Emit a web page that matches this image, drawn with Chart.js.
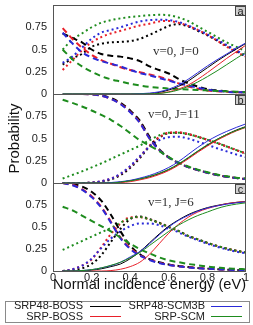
<!DOCTYPE html>
<html><head><meta charset="utf-8">
<script src="https://cdn.jsdelivr.net/npm/chart.js@4/dist/chart.umd.min.js"></script>
<style>
html,body{margin:0;padding:0;background:#fff;}
#wrap{position:relative;width:253px;height:325px;overflow:hidden;font-family:"Liberation Sans",Arial,sans-serif;}
canvas{position:absolute;left:0;top:0;}
#legend{position:absolute;left:5px;top:301px;width:243px;height:20px;border:1px solid #8a8a8a;}
.lt{position:absolute;font-size:11px;line-height:11px;color:#222;white-space:nowrap;text-align:right;}
.ll{position:absolute;height:0;border-top:1px solid;}
</style></head>
<body><div id="wrap">
<canvas id="ca" width="253" height="325"></canvas>
<canvas id="cb" width="253" height="325"></canvas>
<canvas id="cc" width="253" height="325"></canvas>
<div id="legend"></div>
</div>
<script>
// ---- data ----
const E = [0.05,0.10,0.15,0.20,0.25,0.30,0.35,0.40,0.45,0.50,0.55,0.60,0.65,0.70,0.75,0.80,0.85,0.90,0.95,1.00];
const models = ['SRP48-BOSS','SRP-BOSS','SRP48-SCM3B','SRP-SCM'];
const colors = ['#000000','#e8202a','#2a2ad8','#1e8c1e'];
const yTickLabels = ['0','0.25','0.5','0.75'];
const yTickValues = [0,0.25,0.5,0.75];
const xTickLabels = ['0','0.2','0.4','0.6','0.8','1'];
const xTickValues = [0,0.2,0.4,0.6,0.8,1];

// panel a: v=0, J=0
const aDissBOSS48 = [0,0,0,0,0,0,0,0,0.001,0.005,0.018,0.045,0.085,0.145,0.22,0.295,0.37,0.44,0.505,0.57];
const aDissBOSS   = [0,0,0,0,0,0,0,0,0,0.002,0.008,0.025,0.055,0.10,0.165,0.24,0.32,0.40,0.475,0.55];
const aDissSCM3B  = [0,0,0,0,0,0,0,0,0.003,0.01,0.025,0.055,0.10,0.165,0.24,0.315,0.385,0.45,0.515,0.575];
const aDissSCM    = [0,0,0,0,0,0,0,0,0,0.002,0.006,0.02,0.045,0.085,0.135,0.195,0.26,0.33,0.40,0.47];
const aElasBOSS48 = [0.68,0.63,0.58,0.50,0.45,0.43,0.42,0.40,0.37,0.31,0.27,0.23,0.17,0.12,0.085,0.055,0.04,0.03,0.02,0.02];
const aElasBOSS   = [0.74,0.62,0.52,0.44,0.38,0.34,0.30,0.27,0.245,0.22,0.195,0.16,0.12,0.085,0.06,0.04,0.03,0.025,0.02,0.02];
const aElasSCM3B  = [0.69,0.57,0.47,0.41,0.37,0.34,0.31,0.27,0.235,0.21,0.18,0.15,0.12,0.095,0.07,0.05,0.035,0.025,0.02,0.02];
const aElasSCM    = [0.50,0.39,0.31,0.25,0.20,0.165,0.14,0.115,0.095,0.08,0.07,0.06,0.055,0.05,0.045,0.04,0.035,0.03,0.025,0.02];
const aInelBOSS48 = [0.33,0.40,0.45,0.53,0.565,0.58,0.585,0.595,0.62,0.665,0.715,0.765,0.785,0.76,0.71,0.66,0.60,0.54,0.48,0.42];
const aInelBOSS   = [0.27,0.38,0.49,0.58,0.64,0.68,0.71,0.74,0.77,0.79,0.815,0.82,0.80,0.765,0.72,0.665,0.60,0.53,0.47,0.42];
const aInelSCM3B  = [0.35,0.42,0.52,0.62,0.69,0.72,0.75,0.785,0.815,0.83,0.835,0.83,0.81,0.77,0.72,0.67,0.61,0.55,0.49,0.43];
const aInelSCM    = [0.50,0.61,0.68,0.75,0.80,0.83,0.85,0.865,0.875,0.885,0.89,0.885,0.86,0.82,0.76,0.70,0.64,0.58,0.53,0.48];

// panel b: v=0, J=11
const bDissBOSS48 = [0,0,0,0,0,0,0.01,0.025,0.045,0.07,0.105,0.15,0.21,0.28,0.355,0.425,0.49,0.545,0.595,0.635];
const bDissBOSS   = [0,0,0,0,0,0,0.005,0.015,0.035,0.06,0.095,0.14,0.20,0.27,0.345,0.415,0.48,0.535,0.585,0.625];
const bDissSCM3B  = [0,0,0,0,0,0.005,0.015,0.03,0.055,0.085,0.125,0.175,0.24,0.32,0.40,0.47,0.53,0.58,0.625,0.665];
const bDissSCM    = [0,0,0,0,0,0,0.01,0.025,0.045,0.075,0.11,0.155,0.215,0.285,0.36,0.43,0.49,0.545,0.59,0.63];
const bElasBOSS48 = [1.0,1.0,1.0,0.997,0.985,0.955,0.90,0.815,0.70,0.52,0.38,0.29,0.225,0.18,0.145,0.115,0.09,0.07,0.055,0.045];
const bElasBOSS   = [1.0,1.0,1.0,0.995,0.98,0.945,0.89,0.80,0.68,0.50,0.37,0.285,0.225,0.18,0.145,0.115,0.09,0.07,0.055,0.045];
const bElasSCM3B  = [1.0,1.0,1.0,0.995,0.98,0.945,0.885,0.795,0.675,0.50,0.37,0.285,0.225,0.18,0.145,0.115,0.09,0.07,0.055,0.045];
const bElasSCM    = [0.935,0.90,0.86,0.815,0.765,0.71,0.64,0.56,0.48,0.42,0.36,0.29,0.23,0.185,0.15,0.12,0.095,0.075,0.06,0.05];
const bInelBOSS48 = [0,0,0,0.005,0.015,0.04,0.09,0.17,0.28,0.41,0.51,0.56,0.565,0.55,0.52,0.485,0.45,0.41,0.37,0.33];
const bInelBOSS   = [0,0,0,0.005,0.02,0.05,0.10,0.185,0.295,0.42,0.515,0.565,0.57,0.55,0.52,0.485,0.45,0.41,0.37,0.33];
const bInelSCM3B  = [0,0,0,0.005,0.02,0.05,0.105,0.19,0.30,0.41,0.48,0.515,0.52,0.50,0.465,0.43,0.39,0.355,0.32,0.29];
const bInelSCM    = [0.05,0.09,0.13,0.175,0.22,0.27,0.32,0.37,0.42,0.48,0.535,0.565,0.565,0.55,0.52,0.485,0.45,0.41,0.37,0.33];

// panel c: v=1, J=6
const cDissBOSS48 = [0,0,0,0.01,0.025,0.05,0.08,0.14,0.22,0.32,0.42,0.51,0.58,0.64,0.685,0.72,0.745,0.765,0.78,0.79];
const cDissBOSS   = [0,0,0,0,0,0.005,0.02,0.05,0.10,0.19,0.31,0.43,0.53,0.61,0.67,0.71,0.74,0.765,0.78,0.79];
const cDissSCM3B  = [0,0,0.005,0.015,0.035,0.06,0.10,0.16,0.22,0.31,0.41,0.50,0.575,0.63,0.68,0.715,0.74,0.76,0.775,0.785];
const cDissSCM    = [0,0,0.005,0.015,0.035,0.065,0.10,0.15,0.21,0.29,0.37,0.45,0.52,0.58,0.63,0.67,0.71,0.74,0.76,0.775];
const cElasBOSS48 = [1.0,0.99,0.96,0.90,0.80,0.64,0.45,0.29,0.19,0.135,0.10,0.075,0.058,0.045,0.035,0.027,0.02,0.015,0.012,0.01];
const cElasBOSS   = [1.0,0.98,0.93,0.85,0.73,0.56,0.38,0.26,0.18,0.13,0.095,0.07,0.055,0.042,0.033,0.025,0.02,0.015,0.012,0.01];
const cElasSCM3B  = [1.0,0.975,0.925,0.84,0.72,0.55,0.37,0.25,0.175,0.125,0.09,0.068,0.053,0.04,0.032,0.025,0.02,0.015,0.012,0.01];
const cElasSCM    = [0.73,0.69,0.63,0.57,0.51,0.45,0.38,0.31,0.25,0.20,0.155,0.12,0.10,0.08,0.065,0.05,0.04,0.03,0.025,0.02];
const cInelBOSS48 = [0,0.01,0.03,0.08,0.18,0.33,0.48,0.59,0.62,0.59,0.55,0.50,0.455,0.40,0.36,0.32,0.285,0.255,0.23,0.21];
const cInelBOSS   = [0,0.02,0.06,0.13,0.27,0.42,0.54,0.61,0.61,0.585,0.545,0.50,0.455,0.40,0.36,0.32,0.285,0.255,0.23,0.21];
const cInelSCM3B  = [0,0.02,0.06,0.14,0.26,0.37,0.45,0.51,0.54,0.54,0.52,0.48,0.44,0.39,0.35,0.31,0.275,0.245,0.22,0.20];
const cInelSCM    = [0.24,0.29,0.34,0.39,0.44,0.49,0.55,0.60,0.615,0.585,0.545,0.50,0.455,0.40,0.36,0.32,0.285,0.255,0.23,0.21];

const panels = [
  {id:'ca', letter:'a', note:'v=0, J=0', noteX:0.518, noteY:0.475, top:5, bottom:94,
   diss:[aDissBOSS48,aDissBOSS,aDissSCM3B,aDissSCM], elas:[aElasBOSS48,aElasBOSS,aElasSCM3B,aElasSCM], inel:[aInelBOSS48,aInelBOSS,aInelSCM3B,aInelSCM]},
  {id:'cb', letter:'b', note:'v=0, J=11', noteX:0.492, noteY:0.764, top:94, bottom:183, ytitle:true,
   diss:[bDissBOSS48,bDissBOSS,bDissSCM3B,bDissSCM], elas:[bElasBOSS48,bElasBOSS,bElasSCM3B,bElasSCM], inel:[bInelBOSS48,bInelBOSS,bInelSCM3B,bInelSCM]},
  {id:'cc', letter:'c', note:'v=1, J=6', noteX:0.492, noteY:0.773, top:183, bottom:271, xaxis:true,
   diss:[cDissBOSS48,cDissBOSS,cDissSCM3B,cDissSCM], elas:[cElasBOSS48,cElasBOSS,cElasSCM3B,cElasSCM], inel:[cInelBOSS48,cInelBOSS,cInelSCM3B,cInelSCM]}
];

// ---- drawing ----
const family = '"Liberation Sans", Arial, sans-serif';
const W = 253, H = 325, XH = 27;

const framePlugin = {
  id:'frame',
  afterDatasetsDraw(chart, args, opts) {
    const {ctx, chartArea:{left,top,right,bottom}} = chart;
    ctx.save();
    ctx.strokeStyle = '#555'; ctx.lineWidth = 1; ctx.setLineDash([]);
    ctx.strokeRect(left+0.5, top+0.5, right-left-1, bottom-top);
    const bw = 10, bh = 9, bx = right-bw-0.5, by = top+1.5;
    ctx.fillStyle = '#d0d0d0'; ctx.fillRect(bx,by,bw,bh);
    ctx.strokeStyle = '#444'; ctx.strokeRect(bx,by,bw,bh);
    ctx.fillStyle = '#222'; ctx.font = '11px '+family; ctx.textAlign='center'; ctx.textBaseline='middle';
    ctx.fillText(opts.letter, bx+bw/2, by+bh/2+0.5);
    ctx.font = '13px "Liberation Serif","Times New Roman",serif';
    ctx.fillStyle = '#333'; ctx.textAlign = 'left';
    ctx.fillText(opts.note, chart.scales.x.getPixelForValue(opts.noteX), chart.scales.y.getPixelForValue(opts.noteY));
    ctx.restore();
  }
};

const styles = {
  diss:{dash:[], width:1},
  elas:{dash:[6,4], width:2},
  inel:{dash:[2,3], width:2}
};
const drawOrder = [3,2,1,0];

panels.forEach(p => {
  const datasets = [];
  ['diss','elas','inel'].forEach(kind => {
    drawOrder.forEach(m => {
      datasets.push({
        label: models[m]+' '+kind,
        data: E.map((x,i)=>({x:x, y:p[kind][m][i]})),
        borderColor: colors[m],
        borderWidth: styles[kind].width,
        borderDash: styles[kind].dash,
        pointRadius: 0,
        fill: false,
        cubicInterpolationMode: 'monotone'
      });
    });
  });
  new Chart(document.getElementById(p.id), {
    type:'line',
    data:{datasets},
    plugins:[framePlugin],
    options:{
      responsive:false, animation:false, events:[],
      layout:{padding:{left:0, right:7, top:p.top, bottom: p.xaxis ? H - p.bottom - XH : H - p.bottom}},
      plugins:{legend:{display:false}, tooltip:{enabled:false}, frame:{letter:p.letter, note:p.note, noteX:p.noteX, noteY:p.noteY}},
      scales:{
        x:{type:'linear', min:0, max:1, display: !!p.xaxis,
           afterBuildTicks: s => { s.ticks = xTickValues.map(v=>({value:v})); },
           afterFit: s => { s.height = p.xaxis ? XH : 0; },
           grid:{display:true, drawOnChartArea:false, drawTicks:false, color:'rgba(0,0,0,0)'},
           border:{display:false},
           ticks:{padding:0, maxRotation:0, autoSkip:false, color:'#222', font:{family, size:11},
                  callback:(v,i)=>xTickLabels[i]},
           title:{display:true, text:'Normal incidence energy (eV)', color:'#111', font:{family, size:15}, padding:{top:0,bottom:4}}},
        y:{type:'linear', min:0, max:1,
           afterBuildTicks: s => { s.ticks = yTickValues.map(v=>({value:v})); },
           afterFit: s => { s.width = 53; },
           grid:{display:true, drawOnChartArea:false, drawTicks:true, tickLength:6, color:'rgba(0,0,0,0)'},
           border:{display:false},
           ticks:{padding:0, color:'#222', font:{family, size:11, lineHeight:0.8},
                  callback:(v,i)=>yTickLabels[i]},
           title:{display: !!p.ytitle, text:'Probability', color:'#111', font:{family, size:15}, padding:{top:6,bottom:0}}}
      }
    }
  });
});

// legend (HTML)
const wrap = document.getElementById('wrap');
const legendItems = [
  {m:0, right:83, lx:90, row:0},
  {m:2, right:205, lx:211, row:0},
  {m:1, right:83, lx:90, row:1},
  {m:3, right:205, lx:211, row:1}
];
const rowCenters = [306, 316.3];
legendItems.forEach(it => {
  const t = document.createElement('div');
  t.className = 'lt';
  t.textContent = models[it.m];
  t.style.left = (it.right-90)+'px';
  t.style.width = '90px';
  t.style.top = (rowCenters[it.row]-5.6)+'px';
  wrap.appendChild(t);
  const l = document.createElement('div');
  l.className = 'll';
  l.style.left = it.lx+'px';
  l.style.width = '31px';
  l.style.top = Math.round(rowCenters[it.row])+'px';
  l.style.borderTopColor = colors[it.m];
  wrap.appendChild(l);
});
</script>
</body></html>
